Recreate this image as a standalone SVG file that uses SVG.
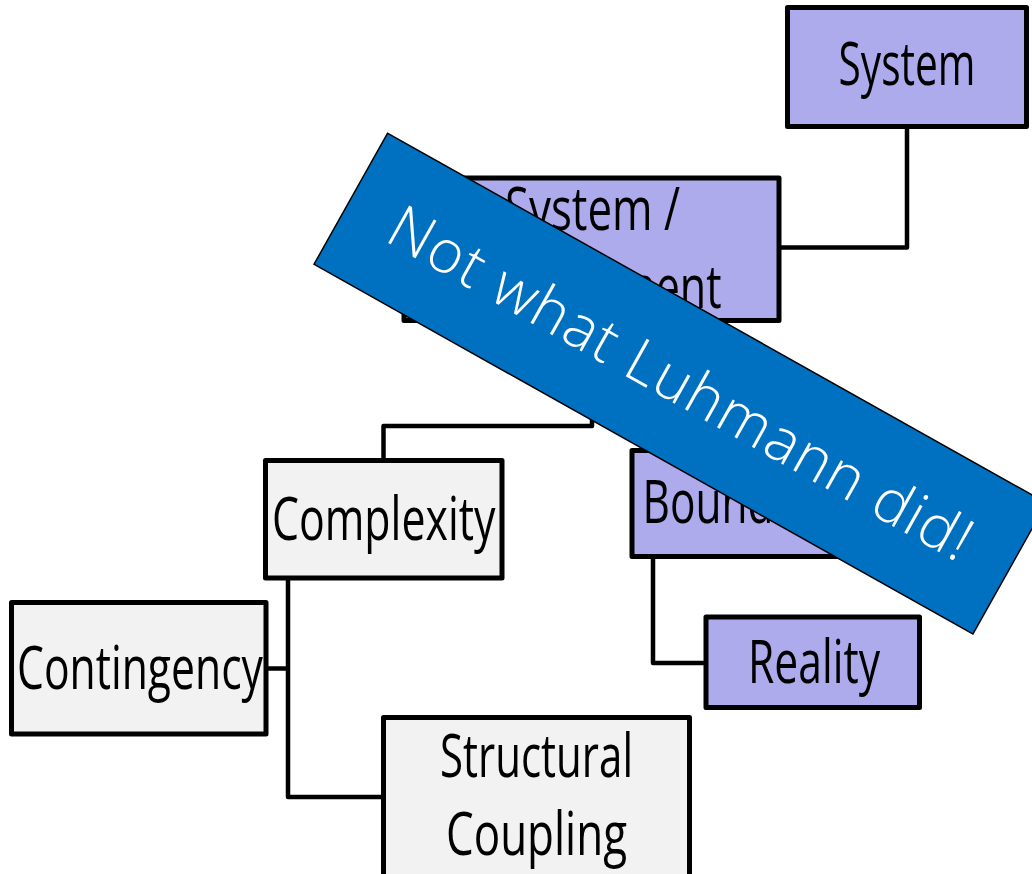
<svg xmlns="http://www.w3.org/2000/svg" width="1032" height="874" viewBox="0 0 1032 874">
<style>
.box{stroke:#000;stroke-width:5;stroke-linejoin:round}
.p{fill:#adabeb}
.g{fill:#f2f2f2}
.t{font-family:"Open Sans","Liberation Sans",sans-serif;font-weight:400;font-size:60px;fill:#000;text-anchor:middle}
.c{fill:none;stroke:#000;stroke-width:4.5;stroke-linejoin:round}
.banner{fill:#0070c0;stroke:#000;stroke-width:1.5}
.bt{font-family:"Open Sans","Liberation Sans",sans-serif;font-weight:300;font-size:60px;fill:#fff;text-anchor:middle}
</style>
<rect width="1032" height="874" fill="#fff"/>
<g id="connectors">
<path class="c" d="M907,127 V247.5 H779"/>
<path class="c" d="M592,321 V426 H383.5 V460.5"/>
<path class="c" d="M700,321 V450.5"/>
<path class="c" d="M288,578 V797 H383.5"/>
<path class="c" d="M288,668.5 H266"/>
<path class="c" d="M653,556.5 V663 H706"/>
</g>
<g id="system">
<rect class="box p" x="787.5" y="7.5" width="239" height="119"/>
<text class="t" x="907" y="85" textLength="137" lengthAdjust="spacingAndGlyphs">System</text>
</g>
<g id="system-environment">
<rect class="box p" x="404" y="178" width="375" height="142.5"/>
<text class="t" x="592.5" y="230" textLength="175" lengthAdjust="spacingAndGlyphs">System /</text>
<text class="t" x="592.5" y="308" textLength="258" lengthAdjust="spacingAndGlyphs">Environment</text>
</g>
<g id="complexity">
<rect class="box g" x="265.5" y="460.5" width="236.5" height="117.5"/>
<text class="t" x="383.7" y="540" textLength="223.5" lengthAdjust="spacingAndGlyphs">Complexity</text>
</g>
<g id="contingency">
<rect class="box g" x="11.5" y="602.5" width="254.5" height="131.5"/>
<text class="t" x="140" y="689" textLength="246" lengthAdjust="spacingAndGlyphs">Contingency</text>
</g>
<g id="structural-coupling">
<rect class="box g" x="383.5" y="717.5" width="306" height="170"/>
<text class="t" x="536.5" y="777" textLength="193" lengthAdjust="spacingAndGlyphs">Structural</text>
<text class="t" x="536.5" y="855" textLength="181" lengthAdjust="spacingAndGlyphs">Coupling</text>
</g>
<g id="boundary">
<rect class="box p" x="632" y="450.5" width="214" height="106"/>
<text class="t" x="739" y="523" textLength="193" lengthAdjust="spacingAndGlyphs">Boundary</text>
</g>
<g id="reality">
<rect class="box p" x="706" y="617" width="213.5" height="90.5"/>
<text class="t" x="814" y="683" textLength="132" lengthAdjust="spacingAndGlyphs">Reality</text>
</g>
<g id="banner" transform="translate(314,264.3) rotate(29.3)">
<rect class="banner" x="0" y="-150.3" width="755.6" height="150.3"/>
<text class="bt" x="377.8" y="-55" textLength="659" lengthAdjust="spacing">Not what Luhmann did!</text>
</g>
</svg>
